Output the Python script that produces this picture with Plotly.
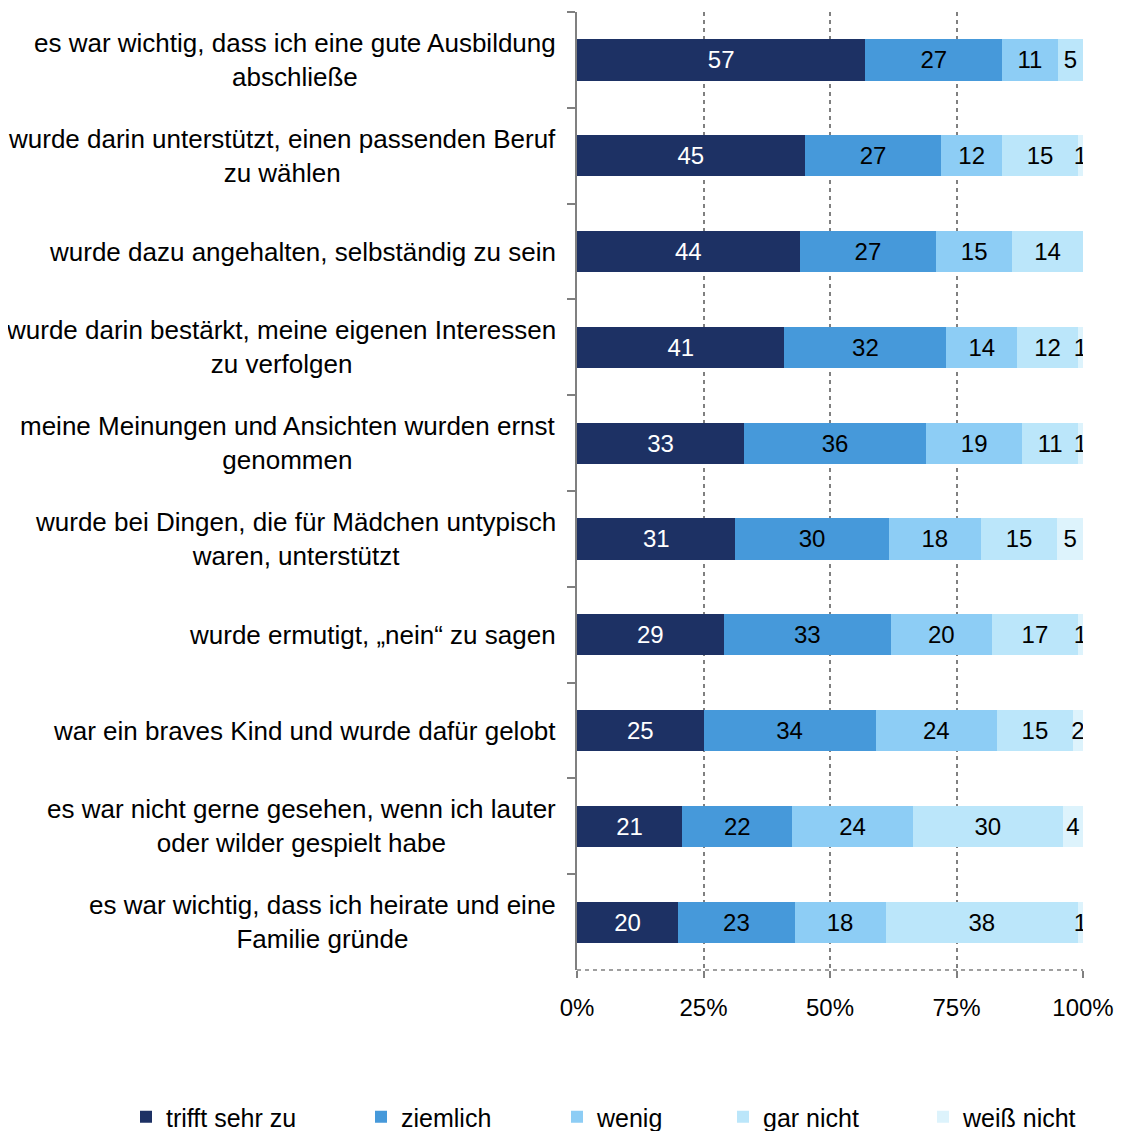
import plotly.graph_objects as go

categories = [
    "es war wichtig, dass ich eine gute Ausbildung<br>abschließe",
    "wurde darin unterstützt, einen passenden Beruf<br>zu wählen",
    "wurde dazu angehalten, selbständig zu sein",
    "wurde darin bestärkt, meine eigenen Interessen<br>zu verfolgen",
    "meine Meinungen und Ansichten wurden ernst<br>genommen",
    "wurde bei Dingen, die für Mädchen untypisch<br>waren, unterstützt",
    "wurde ermutigt, „nein“ zu sagen",
    "war ein braves Kind und wurde dafür gelobt",
    "es war nicht gerne gesehen, wenn ich lauter<br>oder wilder gespielt habe",
    "es war wichtig, dass ich heirate und eine<br>Familie gründe",
]

series_names = ["trifft sehr zu", "ziemlich", "wenig", "gar nicht", "weiß nicht"]
trifft_sehr_zu = [57, 45, 44, 41, 33, 31, 29, 25, 21, 20]
ziemlich = [27, 27, 27, 32, 36, 30, 33, 34, 22, 23]
wenig = [11, 12, 15, 14, 19, 18, 20, 24, 24, 18]
gar_nicht = [5, 15, 14, 12, 11, 15, 17, 15, 30, 38]
weiss_nicht = [0, 1, 0, 1, 1, 5, 1, 2, 4, 1]

colors = ["#1D3164", "#4699DA", "#8DCDF5", "#BBE6FA", "#DDF3FC"]
text_colors = ["white", "black", "black", "black", "black"]
legend_px = [118, 353, 549, 715, 915]

FONT = "Arial, Liberation Sans, sans-serif"
W, H = 1129, 1150
L, R, T, B = 569, 54, 4, 188
plot_w = W - L - R
plot_h = H - T - B

fig = go.Figure()
all_series = [trifft_sehr_zu, ziemlich, wenig, gar_nicht, weiss_nicht]
for i, (name, vals) in enumerate(zip(series_names, all_series)):
    lg = "legend" if i == 0 else f"legend{i+1}"
    fig.add_trace(go.Bar(
        y=categories, x=vals, name=name, orientation="h",
        marker=dict(color=colors[i], line=dict(width=0)),
        text=[str(v) if v > 0 else "" for v in vals],
        textposition="inside", insidetextanchor="middle",
        textfont=dict(family=FONT, size=24, color=text_colors[i]),
        cliponaxis=True, constraintext="none",
        legend=lg,
    ))

fig.update_layout(
    barmode="stack", barnorm="percent", bargap=0.57,
    width=W, height=H,
    margin=dict(l=L, r=R, t=T, b=B),
    paper_bgcolor="white", plot_bgcolor="white",
    font=dict(family=FONT, size=24, color="black"),
    uniformtext=dict(minsize=24, mode="show"),
    showlegend=True,
)

legend_y = (T + plot_h - 1109) / plot_h
for i in range(5):
    key = "legend" if i == 0 else f"legend{i+1}"
    fig.update_layout({key: dict(
        x=(legend_px[i] - L) / plot_w, xanchor="left",
        y=legend_y, yanchor="middle", orientation="h",
        font=dict(family=FONT, size=25, color="black"),
        bgcolor="rgba(0,0,0,0)", itemclick=False,
    )})

fig.update_xaxes(
    range=[0, 100], tickvals=[0, 25, 50, 75, 100],
    ticktext=["0%", "25%", "50%", "75%", "100%"],
    showgrid=True, gridcolor="#808080", gridwidth=1.5, griddash="4px,4px",
    zeroline=False, showline=False,
    ticks="outside", ticklen=7, tickcolor="#808080", tickwidth=1.5,
    ticklabelstandoff=9,
    tickfont=dict(family=FONT, size=24, color="black"),
    fixedrange=True,
)
fig.update_yaxes(
    autorange="reversed", showticklabels=False,
    showline=True, linecolor="#808080", linewidth=2,
    ticks="outside", tickson="boundaries", ticklen=8, tickcolor="#808080", tickwidth=2,
    showgrid=False, zeroline=False, fixedrange=True,
)

# dashed bottom axis line
fig.add_shape(type="line", xref="paper", yref="paper", x0=0, x1=1, y0=0, y1=0,
              line=dict(color="#808080", width=1.5, dash="4px,4px"))

# centered category labels
for c in categories:
    fig.add_annotation(
        x=0, xref="paper", y=c, yref="y", xanchor="right", yanchor="middle",
        xshift=-19, text=c, showarrow=False, align="center",
        font=dict(family=FONT, size=26, color="black"),
    )

fig.write_html("out.html")
